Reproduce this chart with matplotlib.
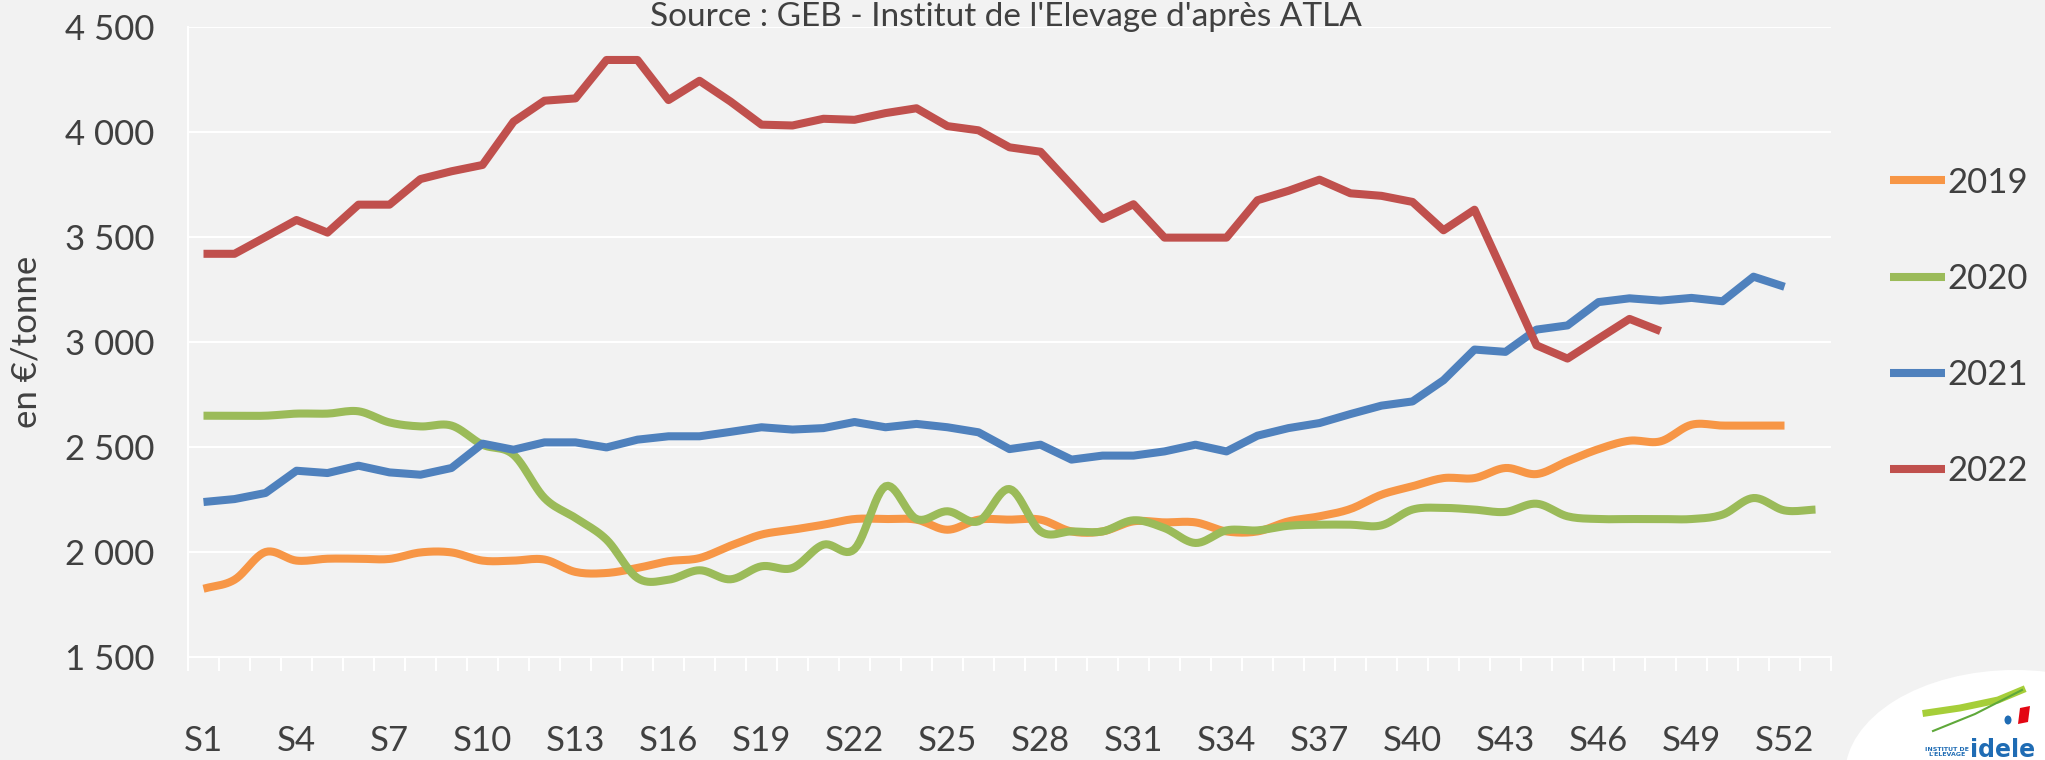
import numpy as np
import matplotlib.pyplot as plt
from matplotlib.patches import Ellipse, Polygon
from matplotlib.lines import Line2D
from matplotlib.ticker import FuncFormatter

plt.rcParams['font.family'] = ['Lato', 'DejaVu Sans']

# semaines S1..S53
weeks = np.arange(1, 54)
week_labels = [f"S{w}" for w in weeks]

prix_2019 = [1825, 1868, 2000, 1959, 1968, 1968, 1967, 1998, 1998, 1959,
             1959, 1964, 1905, 1900, 1924, 1956, 1971, 2030, 2083, 2106,
             2130, 2157, 2157, 2154, 2106, 2154, 2154, 2154, 2098, 2098,
             2146, 2141, 2141, 2098, 2098, 2146, 2170, 2205, 2273, 2313,
             2352, 2352, 2400, 2371, 2432, 2490, 2530, 2527, 2606, 2602,
             2602, 2602]
prix_2020 = [2649, 2649, 2649, 2659, 2659, 2670, 2617, 2598, 2602, 2511,
             2463, 2257, 2162, 2059, 1876, 1868, 1913, 1870, 1932, 1924,
             2035, 2014, 2313, 2157, 2194, 2146, 2300, 2098, 2098, 2098,
             2151, 2114, 2043, 2103, 2103, 2125, 2130, 2130, 2127, 2202,
             2210, 2202, 2191, 2230, 2170, 2157, 2157, 2157, 2157, 2178,
             2257, 2198, 2202]
prix_2021 = [2238, 2252, 2281, 2387, 2376, 2411, 2379, 2368, 2400, 2516,
             2487, 2522, 2522, 2498, 2535, 2551, 2551, 2572, 2594, 2583,
             2590, 2619, 2594, 2610, 2594, 2570, 2490, 2511, 2440, 2459,
             2459, 2479, 2511, 2479, 2554, 2590, 2614, 2657, 2697, 2717,
             2818, 2964, 2953, 3059, 3079, 3190, 3208, 3197, 3210, 3194,
             3311, 3263]
prix_2022 = [3420, 3420, 3500, 3581, 3521, 3654, 3654, 3776, 3813, 3843,
             4049, 4149, 4160, 4343, 4343, 4152, 4244, 4145, 4035, 4031,
             4063, 4058, 4090, 4113, 4028, 4008, 3927, 3906, 3747, 3586,
             3656, 3497, 3497, 3497, 3675, 3720, 3773, 3708, 3696, 3667,
             3532, 3630, 3308, 2984, 2921, 3016, 3110, 3052]

series = [("2019", prix_2019, "#F79646", True),
          ("2020", prix_2020, "#9BBB59", True),
          ("2021", prix_2021, "#4F81BD", False),
          ("2022", prix_2022, "#C0504D", False)]

text_col = "#404040"
bg = "#F2F2F2"
W, H = 2045, 760


def smooth(x, y, n=12):
    # courbe lissee facon Excel (Catmull-Rom)
    x = np.asarray(x, float)
    y = np.asarray(y, float)
    m = np.empty_like(y)
    m[1:-1] = (y[2:] - y[:-2]) / 2
    m[0] = y[1] - y[0]
    m[-1] = y[-1] - y[-2]
    t = np.linspace(0, 1, n, endpoint=False)
    h00 = 2 * t**3 - 3 * t**2 + 1
    h10 = t**3 - 2 * t**2 + t
    h01 = -2 * t**3 + 3 * t**2
    h11 = t**3 - t**2
    xs, ys = [], []
    for i in range(len(y) - 1):
        xs.append(x[i] + t * (x[i + 1] - x[i]))
        ys.append(h00 * y[i] + h10 * m[i] + h01 * y[i + 1] + h11 * m[i + 1])
    xs.append([x[-1]])
    ys.append([y[-1]])
    return np.concatenate(xs), np.concatenate(ys)


def px(x, y):
    return x / W, 1 - y / H


fig = plt.figure(figsize=(W / 100, H / 100), dpi=100, facecolor=bg)
ax = fig.add_axes([188 / W, 1 - 657 / H, (1831 - 188) / W, (657 - 27) / H])
ax.set_facecolor(bg)

for i, (name, vals, col, lisse) in enumerate(series):
    x = weeks[:len(vals)]
    if lisse:
        xs, ys = smooth(x, vals)
    else:
        xs, ys = x, vals
    ax.plot(xs, ys, color=col, lw=5.8, label=name, zorder=3 + i,
            solid_capstyle='butt', solid_joinstyle='round')

ax.set_xlim(0.5, 53.5)
ax.set_ylim(1500, 4500)
ax.set_yticks(range(1500, 5000, 500))
ax.yaxis.set_major_formatter(FuncFormatter(lambda v, p: f"{v:,.0f}".replace(",", " ")))
ax.grid(axis='y', color='white', lw=1.5, zorder=1)

ax.set_xticks(weeks[::3])
ax.set_xticklabels(week_labels[::3])
ax.set_xticks(np.arange(0.5, 54, 1), minor=True)
ax.tick_params(axis='x', which='major', length=0, pad=49, labelsize=25, labelcolor=text_col)
ax.tick_params(axis='x', which='minor', length=10, width=1.5, color='white')
ax.tick_params(axis='y', length=0, pad=24, labelsize=25, labelcolor=text_col)

for s in ['top', 'right']:
    ax.spines[s].set_visible(False)
for s in ['left', 'bottom']:
    ax.spines[s].set_color('white')
    ax.spines[s].set_linewidth(1.5)

leg = ax.legend(loc='center left', bbox_to_anchor=(1876 / W, 1 - 327 / H),
                bbox_transform=fig.transFigure, frameon=False, fontsize=25,
                handlelength=1.6, handletextpad=0.05, labelspacing=1.85,
                borderaxespad=0)
for t in leg.get_texts():
    t.set_color(text_col)

fig.text(*px(26, 342), "en €/tonne", rotation=90, ha='center', va='center',
         fontsize=25, color=text_col)
# source, juste sous le bord haut
fig.text(*px(1006, 26), "Source : GEB - Institut de l'Elevage d'après ATLA",
         ha='center', va='baseline', fontsize=24, color=text_col)

# logo idele
fig.add_artist(Ellipse(px(2015, 775), 340 / W, 210 / H, transform=fig.transFigure,
                       facecolor='white', edgecolor='none'))
sx = [1926, 1960, 1998, 2022]
sy = [713, 708, 700, 690]
fig.add_artist(Line2D([px(a, b)[0] for a, b in zip(sx, sy)],
                      [px(a, b)[1] for a, b in zip(sx, sy)],
                      transform=fig.transFigure, color='#A6CE39', lw=5))
sx2 = [1933, 1975, 2022]
sy2 = [731, 714, 690]
fig.add_artist(Line2D([px(a, b)[0] for a, b in zip(sx2, sy2)],
                      [px(a, b)[1] for a, b in zip(sx2, sy2)],
                      transform=fig.transFigure, color='#5FA83A', lw=1.5))
fig.add_artist(Polygon([px(2020, 708), px(2030, 706), px(2028, 722), px(2018, 724)],
                       closed=True, transform=fig.transFigure, facecolor='#E30613',
                       edgecolor='none'))
fig.add_artist(Ellipse(px(2008, 720), 7 / W, 9 / H, transform=fig.transFigure,
                       facecolor='#1F6CB4', edgecolor='none'))
fig.text(*px(1970, 757), "idele", ha='left', va='baseline', fontsize=17,
         fontweight='bold', color='#1F6CB4', family='DejaVu Sans')
fig.text(*px(1947, 756), "INSTITUT DE\nL'ELEVAGE", ha='center', va='baseline',
         fontsize=4.5, fontweight='bold', color='#1F6CB4', family='DejaVu Sans',
         linespacing=1.1)

fig.savefig("out.png", dpi=100, facecolor=bg)
